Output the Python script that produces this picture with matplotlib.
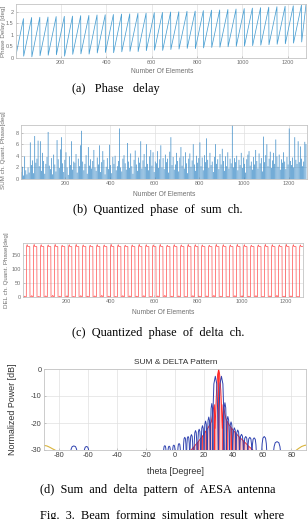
import numpy as np
import matplotlib
matplotlib.use("Agg")
import matplotlib.pyplot as plt

plt.rcParams["axes.unicode_minus"] = False

W, H = 308, 519

# ---------------- (a) phase delay: one saw tooth per array row ----------------
n_elements = 1280
row_len = 36
tooth_low = [0.00, 0.06, 0.03, 0.08, 0.10, 0.12, 0.06, 0.14, 0.16, 0.15, 0.20, 0.22,
             0.21, 0.25, 0.27, 0.26, 0.30, 0.32, 0.31, 0.35, 0.37, 0.40, 0.39, 0.42,
             0.44, 0.45, 0.47, 0.49, 0.50, 0.52, 0.54, 0.56, 0.58, 0.60, 0.63, 0.68]
tooth_high = [1.70, 1.75, 1.76, 1.77, 1.79, 1.80, 1.81, 1.83, 1.84, 1.86, 1.87, 1.88,
              1.90, 1.91, 1.93, 1.94, 1.96, 1.97, 1.99, 2.00, 2.02, 2.03, 2.05, 2.07,
              2.08, 2.10, 2.12, 2.14, 2.16, 2.18, 2.20, 2.22, 2.24, 2.26, 2.29, 2.31]

# ---------------- (b) quantized phase of sum channel (one value per 5 elements) ----------------
sum_bin = 5
sum_phase = [
    1.2, 2.1, 0.6, 3.9, 1.5, 0.8, 2.0, 1.1, 6.3, 2.4, 3.2, 1.0, 7.4, 2.8, 3.5, 6.6,
    2.2, 6.5, 1.4, 4.5, 3.1, 0.9, 2.6, 3.8, 8.1, 2.3, 1.7, 3.6, 0.8, 4.2, 2.5, 1.3,
    6.7, 3.4, 1.9, 5.1, 7.2, 2.7, 1.2, 3.3, 4.6, 2.0, 0.7, 3.9, 2.4, 6.5, 1.6, 3.0,
    2.8, 4.3, 1.1, 3.5, 2.2, 5.8, 8.3, 3.0, 1.5, 2.6, 4.1, 0.9, 5.5, 2.3, 3.4, 1.8,
    3.1, 5.0, 2.0, 1.4, 3.7, 2.5, 5.8, 1.2, 2.9, 4.8, 3.3, 0.8, 2.1, 3.6, 1.7, 5.9,
    2.4, 1.0, 3.8, 2.6, 4.0, 1.5, 2.2, 3.1, 8.7, 2.0, 1.3, 3.5, 4.1, 2.7, 1.6, 6.2,
    3.0, 1.9, 4.4, 2.2, 0.9, 3.3, 4.9, 2.5, 1.4, 3.7, 2.8, 6.5, 1.8, 3.2, 4.3, 2.1,
    6.0, 2.6, 1.5, 3.9, 5.0, 2.3, 4.6, 1.2, 3.0, 2.7, 4.8, 1.9, 3.4, 5.8, 2.0, 3.6,
    1.7, 4.2, 2.9, 3.5, 1.1, 4.7, 7.2, 2.4, 3.8, 1.6, 2.5, 4.5, 3.1, 1.3, 3.7, 5.5,
    2.3, 3.9, 1.8, 4.6, 2.7, 1.0, 3.5, 4.4, 2.1, 3.2, 6.0, 2.5, 1.4, 4.0, 2.8, 3.6,
    6.3, 2.2, 3.7, 1.5, 4.1, 2.9, 7.0, 3.3, 1.9, 4.5, 2.4, 3.0, 1.2, 3.8, 6.0, 2.6,
    3.4, 1.7, 4.3, 2.5, 5.2, 3.1, 1.4, 3.9, 2.2, 4.6, 1.8, 3.5, 2.7, 9.3, 2.0, 3.6,
    2.9, 4.0, 1.5, 3.3, 2.4, 4.5, 1.9, 3.7, 2.6, 1.1, 3.4, 4.2, 4.8, 2.3, 3.0, 1.6,
    3.8, 2.5, 5.0, 3.1, 1.8, 4.4, 2.7, 3.6, 1.3, 7.3, 2.9, 4.1, 6.0, 2.2, 3.5, 4.7,
    1.9, 3.2, 4.5, 2.6, 6.8, 3.9, 2.1, 4.2, 1.6, 3.4, 2.8, 4.6, 3.0, 1.7, 3.8, 2.5,
    8.7, 3.1, 2.4, 3.7, 2.0, 7.2, 3.3, 2.6, 6.5, 2.9, 5.6, 3.5, 2.2, 3.0, 6.4, 6.0,
]

# ---------------- (c) quantized phase of delta channel ----------------
delta_row = 32
delta_level = 180
delta_top = [187, 188, 187, 186, 188, 185, 187, 188, 186, 185, 187, 186, 188, 187,
             185, 186, 188, 187, 186, 188, 185, 187, 186, 188, 187, 186, 185, 188,
             187, 186, 188, 187, 185, 186, 188, 187, 186, 188, 187, 186]
delta_base = [3, 5, 2, 4, 6, 3, 4, 2, 5, 3, 4, 6, 3, 2, 5, 4, 3, 5, 2, 4,
              6, 3, 4, 2, 5, 3, 4, 6, 3, 2, 5, 4, 3, 5, 2, 4, 6, 3, 4, 2]

# ---------------- (d) sum & delta pattern ----------------
blue_theta = [-69.5, -60.8, -7.0, -4.0, -0.8, 2.8, 6.7, 9.0, 11.3, 14.1, 16.6, 18.9,
              21.0, 23.2, 25.3, 27.7, 31.9, 34.3, 36.3, 38.5, 40.8, 43.1, 45.7, 48.6,
              51.4, 54.4, 61.3, 70.1]
blue_db = [-28.5, -28.7, -28.4, -28.6, -28.2, -27.6, -25.3, -25.0, -24.3, -22.8, -22.3,
           -21.0, -19.3, -17.8, -12.8, -2.7, -2.7, -12.5, -17.6, -19.6, -21.8, -22.6,
           -24.2, -25.0, -25.3, -25.5, -25.0, -26.9]
blue_width = [4.6, 3.4, 1.8, 1.8, 1.8, 1.9, 2.0, 2.0, 2.0, 2.0, 2.0, 2.0, 2.0, 2.0,
              2.0, 4.0, 4.0, 2.2, 2.2, 2.2, 2.3, 2.4, 2.6, 2.7, 2.9, 3.0, 3.6, 5.0]

red_theta = [11, 13, 15, 17, 19, 21, 23, 25, 26.3, 27.0, 27.5, 28.5, 29.3, 30,
             30.7, 31.5, 32.5, 33.0, 33.7, 35, 37, 39, 41, 43, 45, 47, 49, 51, 53.5]
red_db = [-30, -28.8, -27.5, -26.2, -24.8, -23.2, -21.5, -19.5, -15, -13.2, -22, -8,
          -2, 0, -2, -8, -22, -13.2, -15, -18.5, -20.5, -22, -23.3, -24.5, -25.6,
          -26.6, -27.7, -28.8, -30]

edge_left_theta = [-90, -88, -86, -84, -82.5]
edge_left_db = [-28.3, -28.5, -29.0, -29.6, -30.0]
edge_right_theta = [83.5, 85, 87, 89, 90]
edge_right_db = [-30.0, -29.4, -28.7, -28.3, -28.2]

x_ticks = [200, 400, 600, 800, 1000, 1200]
theta_ticks = [-80, -60, -40, -20, 0, 20, 40, 60, 80]
db_ticks = [-30, -20, -10, 0]

CAP_FONT = "Liberation Serif"
AX_FONT = "Liberation Sans"
CAP_SIZE = 8.8


def px_axes(fig, left, top, right, bottom):
    return fig.add_axes([left / W, 1 - bottom / H, (right - left) / W, (bottom - top) / H])


def px_text(fig, x, y, s, **kw):
    return fig.text(x / W, 1 - y / H, s, **kw)


def style_axes(ax, size, label_color):
    for sp in ax.spines.values():
        sp.set_color("#c4c4c4")
        sp.set_linewidth(0.6)
    ax.tick_params(direction="in", length=1.5, width=0.4, color="#a0a0a0",
                   labelsize=size, labelcolor=label_color, pad=1.5)
    for lab in ax.get_xticklabels() + ax.get_yticklabels():
        lab.set_family(AX_FONT)
    ax.grid(True, color="#e0e0e0", linewidth=0.5)
    ax.set_axisbelow(True)


fig = plt.figure(figsize=(W / 100, H / 100), dpi=100)

# (a)
ax = px_axes(fig, 15.5, 4, 306, 57.5)
xs, ys = [], []
for k, (lo, hi) in enumerate(zip(tooth_low, tooth_high)):
    start = 1 + k * row_len
    end = min(start + row_len - 1, n_elements)
    xs += [start, end]
    ys += [lo, hi]
ax.plot(xs, ys, color="#4a9fd2", linewidth=0.55)
ax.set_xlim(1, n_elements)
ax.set_ylim(0, 2.34)
ax.set_xticks(x_ticks)
ax.set_yticks([0, 0.5, 1, 1.5, 2])
ax.set_yticklabels(["0", "0.5", "1", "1.5", "2"])
style_axes(ax, 4, "#707070")
px_text(fig, 4, 31, "Phase Delay [deg]", rotation=90, ha="center", va="center",
        fontsize=4.5, color="#707070", family=AX_FONT)
px_text(fig, 162, 72, "Number Of Elements", ha="center", va="center",
        fontsize=4.8, color="#707070", family=AX_FONT)
px_text(fig, 72, 89, "(a)   Phase   delay", ha="left", va="center",
        fontsize=CAP_SIZE, family=CAP_FONT)

# (b)
ax = px_axes(fig, 21, 125, 306.5, 179)
bx = np.arange(len(sum_phase)) * sum_bin + sum_bin / 2
ax.bar(bx, sum_phase, width=sum_bin * 0.6, color="#2f84c4", linewidth=0, snap=False)
ax.set_xlim(1, n_elements)
ax.set_ylim(0, 9.3)
ax.set_xticks(x_ticks)
ax.set_yticks([0, 2, 4, 6, 8])
style_axes(ax, 4, "#707070")
px_text(fig, 4, 150, "SUM ch. Quant. Phase[deg]", rotation=90, ha="center", va="center",
        fontsize=4.5, color="#707070", family=AX_FONT)
px_text(fig, 164, 194, "Number Of Elements", ha="center", va="center",
        fontsize=4.8, color="#707070", family=AX_FONT)
px_text(fig, 72.7, 210, "(b)  Quantized  phase  of  sum  ch.", ha="left", va="center",
        fontsize=CAP_SIZE, family=CAP_FONT)

# (c)
ax = px_axes(fig, 23, 243, 303, 297)
cx, cy = [], []
for k, (top, base) in enumerate(zip(delta_top, delta_base)):
    b0 = 1 + k * delta_row
    half = delta_row // 2
    cx += [b0, b0 + 4, b0 + 8, b0 + 12, b0 + half - 1,
           b0 + half, b0 + half + 3, b0 + half + 6, b0 + half + 9, b0 + delta_row - 1]
    cy += [0, 0, base, 0, 0,
           delta_level, top, delta_level, delta_level, delta_level]
ax.plot(cx, cy, color="#ff4d4d", linewidth=0.5)
ax.set_xlim(1, n_elements)
ax.set_ylim(0, 193)
ax.set_xticks(x_ticks)
ax.set_yticks([0, 50, 100, 150])
style_axes(ax, 4, "#707070")
px_text(fig, 7, 270, "DEL ch. Quant. Phase[deg]", rotation=90, ha="center", va="center",
        fontsize=4.5, color="#707070", family=AX_FONT)
px_text(fig, 163, 312, "Number Of Elements", ha="center", va="center",
        fontsize=4.8, color="#707070", family=AX_FONT)
px_text(fig, 71.7, 332.7, "(c)  Quantized  phase  of  delta  ch.", ha="left", va="center",
        fontsize=CAP_SIZE, family=CAP_FONT)

# (d)
ax = px_axes(fig, 44, 369, 306, 450)
ax.fill_between(red_theta, -31, red_db, facecolor="#ffc4c4", edgecolor="#ff2a2a",
                hatch="||||", linewidth=0)
ax.plot(red_theta, red_db, color="#ff1a1a", linewidth=0.6)
arch_dx = [-0.5, -0.4, -0.25, 0, 0.25, 0.4, 0.5]
arch_h = [0, 0.55, 0.9, 1, 0.9, 0.55, 0]
for th, db, w in zip(blue_theta, blue_db, blue_width):
    lx = [th + d * w for d in arch_dx]
    ly = [-31 + f * (db + 31) for f in arch_h]
    ax.plot(lx, ly, color="#2f42b0", linewidth=0.7)
ax.plot(edge_left_theta, edge_left_db, color="#d9b43c", linewidth=0.8)
ax.plot(edge_right_theta, edge_right_db, color="#d9b43c", linewidth=0.8)
ax.set_xlim(-90, 90)
ax.set_ylim(-30, 0)
ax.set_xticks(theta_ticks)
ax.set_yticks(db_ticks)
style_axes(ax, 5.3, "#404040")
px_text(fig, 176, 362, "SUM & DELTA Pattern", ha="center", va="center",
        fontsize=6, color="#303030", family=AX_FONT)
px_text(fig, 13, 409, "Normalized Power [dB]", rotation=90, ha="center", va="center",
        fontsize=6.4, color="#303030", family=AX_FONT)
px_text(fig, 175, 471, "theta [Degree]", ha="center", va="center",
        fontsize=6.4, color="#303030", family=AX_FONT)
px_text(fig, 40, 490, "(d)  Sum  and  delta  pattern  of  AESA  antenna", ha="left",
        va="center", fontsize=CAP_SIZE, family=CAP_FONT)

px_text(fig, 40, 510, "Fig.  3.  Beam  forming  simulation  result  where", ha="left",
        va="top", fontsize=CAP_SIZE, family=CAP_FONT)

fig.savefig("out.png", dpi=100)
